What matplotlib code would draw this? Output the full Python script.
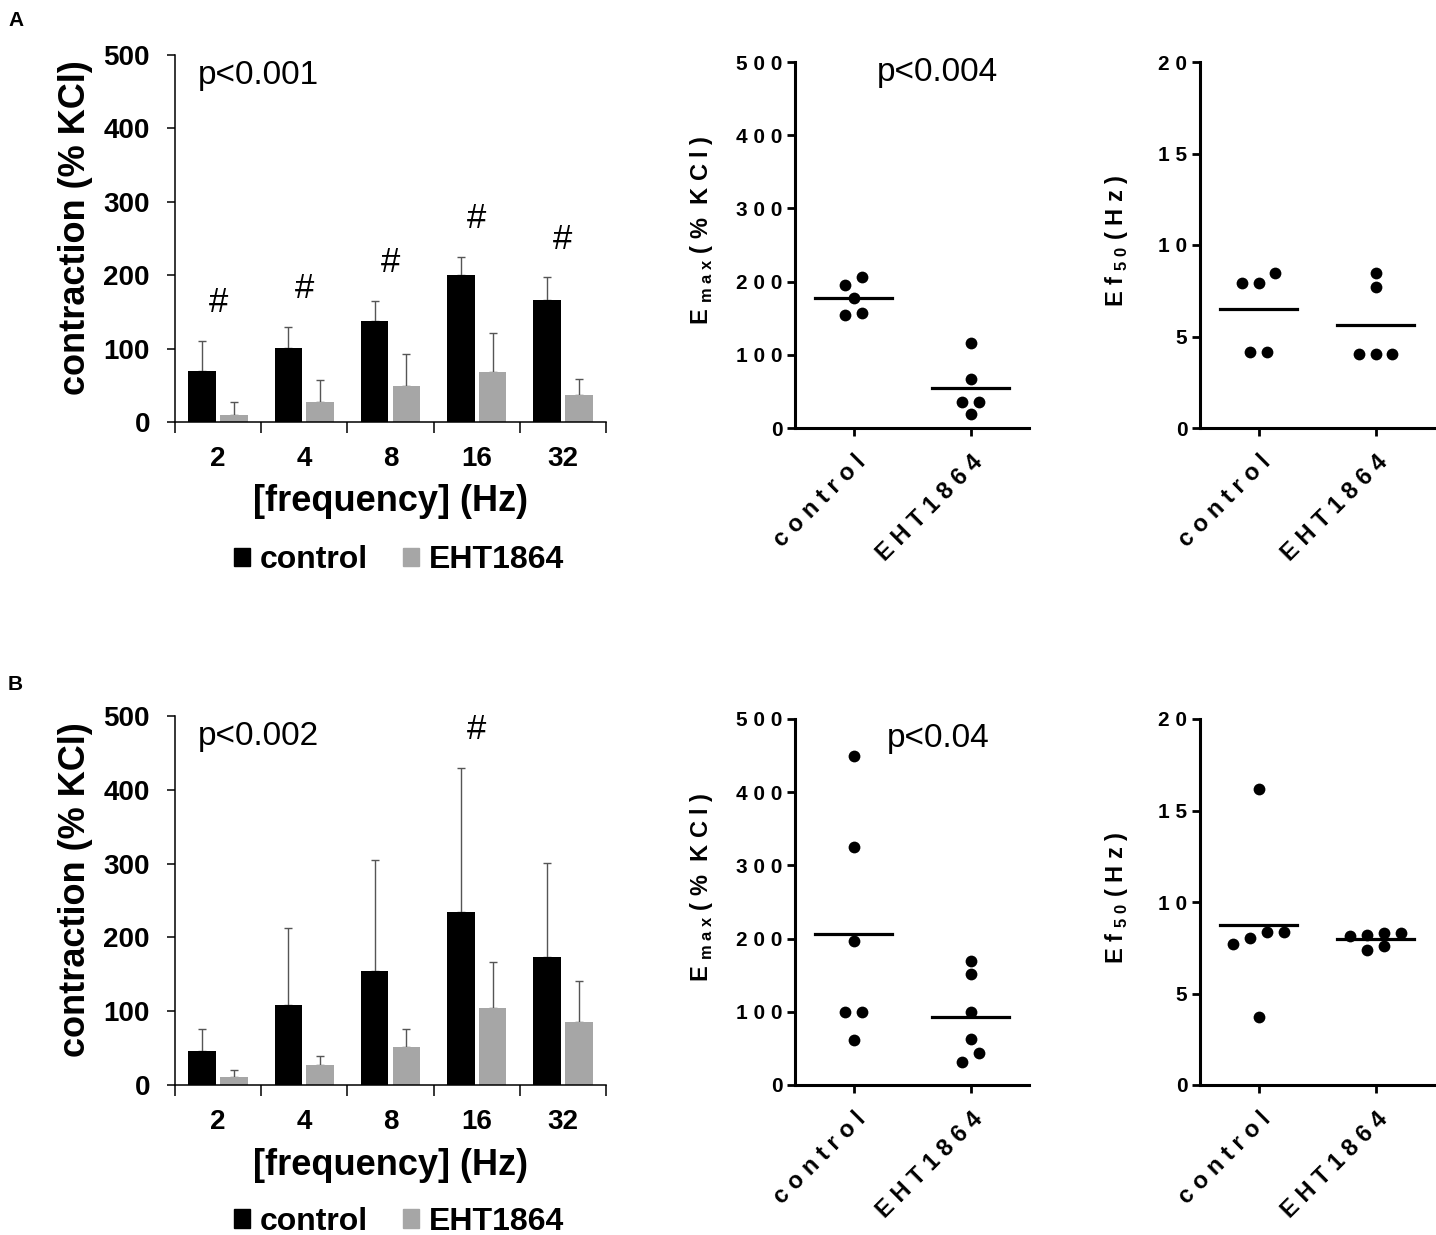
import numpy as np
import matplotlib
matplotlib.use('Agg')
import matplotlib.pyplot as plt
from matplotlib.patches import Patch

plt.rcParams['font.family'] = ['Liberation Sans', 'DejaVu Sans']
plt.rcParams['mathtext.fontset'] = 'custom'
plt.rcParams['mathtext.rm'] = 'Liberation Sans'
plt.rcParams['mathtext.bf'] = 'Liberation Sans:bold'

# ---- data: frequency response bars ----
freqs = ['2', '4', '8', '16', '32']
groups = ['control', 'EHT1864']

a_ctrl = [69, 101, 137, 200, 166]
a_ctrl_top = [111, 130, 165, 225, 197]
a_eht = [10, 27, 49, 68, 37]
a_eht_top = [27, 57, 93, 121, 59]
a_hash = [1, 1, 1, 1, 1]

b_ctrl = [46, 109, 154, 234, 173]
b_ctrl_top = [76, 213, 305, 430, 301]
b_eht = [11, 27, 52, 105, 85]
b_eht_top = [20, 39, 76, 166, 141]
b_hash = [0, 0, 0, 1, 0]

# ---- data: individual points ----
a_emax_ctrl = [206, 195, 177, 154, 157]
a_emax_eht = [116, 67, 36, 35, 19]
a_ef50_ctrl = [7.92, 7.92, 8.45, 4.13, 4.13]
a_ef50_eht = [8.45, 7.7, 4.02, 4.02, 4.02]

b_emax_ctrl = [450, 325, 197, 100, 100, 62]
b_emax_eht = [170, 151, 100, 63, 44, 31.5]
b_ef50_ctrl = [16.2, 8.34, 8.03, 7.73, 8.34, 3.74]
b_ef50_eht = [8.29, 8.14, 8.33, 8.18, 7.4, 7.59]

W, H = 1436, 1235
fig = plt.figure(figsize=(W / 100, H / 100), dpi=100)


def px_axes(x0, x1, ytop, ybot):
    return fig.add_axes([x0 / W, 1 - ybot / H, (x1 - x0) / W, (ybot - ytop) / H])


def sp(s):
    # GraphPad-style letter spacing
    return ' '.join(s)


def swarm(vals, thr, step=0.145):
    vals = np.asarray(vals, float)
    offs = np.zeros(len(vals))
    rows = []
    for i in np.argsort(vals, kind='stable'):
        if rows and vals[i] - vals[rows[-1][0]] < thr:
            rows[-1].append(i)
        else:
            rows.append([i])
    for r in rows:
        n = len(r)
        for k, i in enumerate(r):
            offs[i] = (k - (n - 1) / 2) * step
    return offs


def bar_panel(ax, ctrl, ctrl_top, eht, eht_top, hashes, ptxt, leg_y):
    x = np.arange(len(freqs))
    w = 0.32
    off = 0.185
    ax.bar(x - off, ctrl, w, color='black', zorder=2)
    ax.bar(x + off, eht, w, color='#a6a6a6', zorder=2)
    ectrl = np.array(ctrl_top) - np.array(ctrl)
    eeht = np.array(eht_top) - np.array(eht)
    ax.errorbar(x - off, ctrl, yerr=[np.zeros(len(x)), ectrl], fmt='none',
                ecolor='#555555', elinewidth=1.0, capsize=3, capthick=1.0, zorder=1)
    ax.errorbar(x + off, eht, yerr=[np.zeros(len(x)), eeht], fmt='none',
                ecolor='#555555', elinewidth=1.0, capsize=3, capthick=1.0, zorder=1)
    for i, h in enumerate(hashes):
        if h:
            ax.text(x[i], ctrl_top[i] + 52, '#', ha='center', va='center', fontsize=25)
    ax.text(-0.23, 472, ptxt, ha='left', va='center', fontsize=24)
    ax.set_xlim(-0.5, 4.5)
    ax.set_ylim(0, 500)
    ax.set_yticks([0, 100, 200, 300, 400, 500])
    ax.set_xticks(x)
    ax.set_xticklabels(freqs)
    ax.set_xticks(np.arange(-0.5, 5, 1), minor=True)
    ax.tick_params(axis='x', which='major', length=0, pad=17)
    ax.tick_params(axis='x', which='minor', length=8, width=1.1, direction='out')
    ax.tick_params(axis='y', length=6, width=1.1, direction='out', pad=12)
    for lab in ax.get_xticklabels() + ax.get_yticklabels():
        lab.set_fontsize(20)
        lab.set_fontweight('bold')
    for s in ['top', 'right']:
        ax.spines[s].set_visible(False)
    for s in ['left', 'bottom']:
        ax.spines[s].set_linewidth(1.1)
    ax.set_ylabel('contraction (% KCl)', fontsize=26, fontweight='bold')
    ax.yaxis.set_label_coords(-0.19, 0.53)
    ax.set_xlabel('[frequency] (Hz)', fontsize=26, fontweight='bold')
    ax.xaxis.set_label_coords(0.5, -0.17)
    handles = [Patch(color='black', label=groups[0]), Patch(color='#a6a6a6', label=groups[1])]
    ax.legend(handles=handles, loc='center', bbox_to_anchor=(0.52, leg_y), ncol=2,
              frameon=False, handlelength=0.5, handleheight=0.5,
              handletextpad=0.3, columnspacing=1.1,
              prop={'size': 23, 'weight': 'bold'})


def dot_panel(ax, ctrl, eht, ymax, yticks, thr, ylabel, ptxt=None, py=None):
    for i, vals in enumerate([ctrl, eht]):
        xs = i + swarm(vals, thr)
        ax.scatter(xs, vals, s=72, color='black', zorder=3, linewidths=0)
        m = np.mean(vals)
        ax.plot([i - 0.33, i + 0.33], [m, m], color='black', lw=2.3, zorder=2)
    ax.set_xlim(-0.5, 1.5)
    ax.set_ylim(0, ymax)
    ax.set_yticks(yticks)
    ax.set_yticklabels([sp(str(t)) for t in yticks], fontsize=15, fontweight='bold')
    ax.set_xticks([0, 1])
    ax.set_xticklabels([sp(g) for g in groups], fontsize=17, fontweight='bold',
                       rotation=45, ha='right', rotation_mode='anchor')
    ax.tick_params(axis='both', length=6, width=2, direction='out')
    ax.tick_params(axis='y', pad=3)
    ax.tick_params(axis='x', pad=10)
    for s in ['top', 'right']:
        ax.spines[s].set_visible(False)
    for s in ['left', 'bottom']:
        ax.spines[s].set_linewidth(2.2)
    ax.set_ylabel(ylabel, fontsize=17, fontweight='bold')
    if ptxt:
        ax.text(0.72, py, ptxt, ha='center', va='center', fontsize=24)


emax_lab = 'E $_{\\mathbf{m\\;a\\;x}}$ ' + sp('(%') + '  ' + sp('KCl)')
ef50_lab = sp('Ef') + ' $_{\\mathbf{5\\;0}}$ ' + sp('(Hz)')

# ---- panel A ----
ax1 = px_axes(175, 606, 55, 422)
bar_panel(ax1, a_ctrl, a_ctrl_top, a_eht, a_eht_top, a_hash, 'p<0.001', -0.376)

ax2 = px_axes(795, 1029, 62, 428)
dot_panel(ax2, a_emax_ctrl, a_emax_eht, 500, [0, 100, 200, 300, 400, 500], 16,
          emax_lab, 'p<0.004', 485)
ax2.yaxis.set_label_coords(-0.34, 0.54)

ax3 = px_axes(1200, 1434, 62, 428)
dot_panel(ax3, a_ef50_ctrl, a_ef50_eht, 20, [0, 5, 10, 15, 20], 0.65, ef50_lab)
ax3.yaxis.set_label_coords(-0.30, 0.51)

# ---- panel B ----
ax4 = px_axes(175, 606, 716, 1085)
bar_panel(ax4, b_ctrl, b_ctrl_top, b_eht, b_eht_top, b_hash, 'p<0.002', -0.371)

ax5 = px_axes(795, 1029, 719, 1085)
dot_panel(ax5, b_emax_ctrl, b_emax_eht, 500, [0, 100, 200, 300, 400, 500], 16,
          emax_lab, 'p<0.04', 474)
ax5.yaxis.set_label_coords(-0.34, 0.54)

ax6 = px_axes(1200, 1434, 719, 1085)
dot_panel(ax6, b_ef50_ctrl, b_ef50_eht, 20, [0, 5, 10, 15, 20], 0.65, ef50_lab)
ax6.yaxis.set_label_coords(-0.30, 0.51)

fig.text(8 / W, 1 - 20 / H, 'A', fontsize=15, fontweight='bold', va='center')
fig.text(8 / W, 1 - 685 / H, 'B', fontsize=15, fontweight='bold', va='center')

fig.savefig('out.png', dpi=100, facecolor='white')
